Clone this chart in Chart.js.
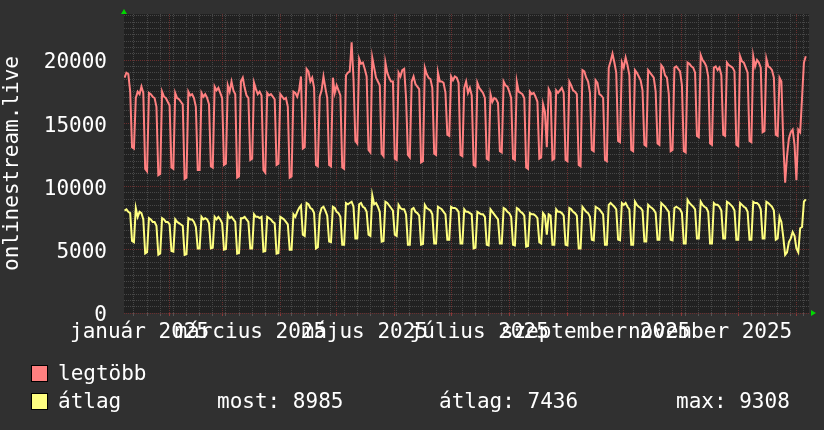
<!DOCTYPE html>
<html><head><meta charset="utf-8">
<script src="https://cdn.jsdelivr.net/npm/chart.js@4/dist/chart.umd.min.js"></script>
<style>
html,body{margin:0;padding:0;background:#303030;}
canvas{display:block;}
</style></head><body>
<canvas id="c" width="824" height="430"></canvas>
<script>
// ---- data ----
const seriesNames = ['legtöbb', 'átlag'];
const firstDate = '2025-01-07';          // first daily value
const viewStartDate = '2025-01-07T17:00:00Z';
const viewDays = 365;
const maxValues = [
18600,19000,18900,17500,13100,13000,
17000,17500,17300,17900,17400,11400,11200,
17400,17300,17100,17000,16300,10900,11000,
17500,17100,17000,16700,16400,11500,11400,
17400,17000,16900,16700,16500,10600,10700,
17500,17200,17300,17000,16300,11300,11300,
17400,17100,17300,17000,16500,11600,11500,
17900,17600,17800,17400,17000,11700,11800,
18000,17500,18300,17600,17300,10700,10800,
18300,18600,17800,17200,17000,12100,12200,
18200,17700,17300,17500,17200,11300,11100,
17400,17200,17300,17100,16900,11700,11800,
17300,17100,16900,17000,16300,10700,10800,
17500,17400,17100,17600,18700,13000,13100,
19300,19100,18300,18600,17800,11700,11600,
17100,17600,18700,17800,17000,11700,11600,
18600,17400,18000,17600,17200,11500,11400,
18800,19000,19100,21400,18500,13600,13400,
20100,19700,19800,19300,18700,12900,12700,
20200,19400,18600,18300,18000,12600,12400,
19800,19000,18600,18300,18300,12200,12100,
19000,18700,19200,19300,17000,12500,12300,
18300,18700,18100,17900,17700,11900,12000,
19400,18900,18600,18500,17800,12600,12500,
19000,18300,18300,18200,17400,14100,14000,
18700,18400,18700,18600,18200,12500,12400,
17800,18300,17400,17800,17200,11700,11600,
18200,17800,17600,17400,17000,12200,12100,
17300,16700,17000,16900,16600,12800,12700,
18300,18000,17900,17500,17000,12200,12100,
18300,17500,17400,17300,17000,11500,11400,
17500,17300,17400,17100,16700,12200,12300,
16500,15900,13100,17700,17400,12100,12200,
17600,17400,17600,17800,17400,12100,12000,
18300,18000,17600,17500,17300,11700,11600,
19200,19100,18600,18300,17400,12900,12800,
18400,18200,17300,17200,17000,12100,12000,
19400,19900,20500,19800,19000,13600,13500,
19800,19400,20200,19600,18800,12900,12800,
19200,19000,18700,18400,17600,13300,13200,
19200,19000,18800,18600,17500,13400,13300,
19600,19400,18800,18600,17300,12800,12900,
19400,19500,19300,19100,18000,12800,12700,
19800,19700,19500,19400,19000,14000,13900,
20400,20000,19800,19500,18700,13400,13300,
19400,19500,19200,19400,18800,14100,14000,
19800,19600,19500,19400,19100,13300,13200,
20300,19900,19800,19400,19000,13600,13500,
20300,19500,20000,19800,19400,14300,14400,
20100,19500,19400,19200,18600,14100,14000,
18600,18300,13500,10300,12400,13800,14300,
14500,13300,10500,14500,14300,17000,19800,
20300
];
const avgValues = [
8100,8200,8000,7900,5700,5600,
8300,7600,8000,7900,7400,4700,4800,
7500,7400,7200,7200,6900,4600,4700,
7500,7400,7200,7200,7000,4900,4850,
7400,7200,7100,7000,6900,4600,4650,
7500,7400,7400,7200,6800,5100,5100,
7600,7400,7500,7400,7100,5100,5150,
7600,7400,7600,7400,7100,5000,5050,
7800,7500,7600,7400,7200,4700,4750,
7500,7500,7600,7400,7200,5100,5100,
7800,7600,7600,7500,7600,4850,4900,
7600,7500,7400,7200,7100,4700,4750,
7600,7500,7400,7200,7000,5000,5000,
7800,7600,8000,8300,8500,6200,6100,
8700,8600,8300,8200,7900,5100,5200,
7800,8300,8400,8100,7700,5650,5600,
8400,8300,8000,7900,7600,5400,5400,
8700,8600,8700,8800,8400,5900,5900,
8600,8700,8400,8300,8000,6200,6100,
9308,8600,8700,8400,8000,5650,5700,
8800,8700,8500,8300,8100,6200,6100,
8550,8300,8200,8200,7800,5400,5400,
8200,8300,8000,7900,7700,5400,5450,
8550,8300,8200,8100,7800,5500,5500,
8400,8300,8200,8000,7800,5800,5800,
8400,8300,8300,8200,8000,5500,5500,
8200,8000,8000,7900,7800,5100,5150,
8000,7900,7800,7800,7600,5400,5350,
8200,8000,7800,7600,7400,5500,5500,
8300,8200,8000,7900,7600,5400,5350,
8300,8200,8000,7900,7700,5250,5300,
7900,7800,7800,7700,7500,5600,5500,
7900,7700,6200,7800,7700,5400,5400,
8200,8000,8000,7900,7700,5400,5350,
8300,8200,8000,7900,7700,5100,5100,
8400,8200,8000,7900,7600,5800,5750,
8400,8300,8200,8000,7800,5400,5400,
8550,8700,8550,8400,8200,5800,5750,
8700,8550,8700,8400,8200,5400,5400,
8800,8550,8400,8300,8100,5650,5650,
8550,8400,8300,8150,7900,5800,5800,
8700,8550,8400,8200,8000,5800,5750,
8300,8400,8300,8200,7900,5500,5500,
8950,8700,8550,8400,8200,5900,5900,
8800,8550,8400,8300,8000,5500,5500,
8700,8550,8550,8400,8100,5900,5900,
8800,8700,8550,8400,8100,5800,5800,
8700,8550,8400,8300,8000,5800,5800,
8800,8700,8700,8550,8200,5900,5900,
8800,8700,8550,8400,8100,5800,5900,
7600,7200,6000,4600,4800,5600,5900,
6400,6100,5100,4800,6700,6800,8800,
8985
];
const monthLabels = ['január 2025', 'március 2025', 'május 2025', 'július 2025', 'szeptember 2025', 'november 2025'];
const monthLabelDates = ['2025-01-16', '2025-03-16', '2025-05-16', '2025-07-16', '2025-09-16', '2025-11-16'];
const yTickValues = [0, 5000, 10000, 15000, 20000];
const yMax = 23640;
const axisTitle = 'onlinestream.live';
const statNames = ['most', 'átlag', 'max'];
const statValues = [8985, 7436, 9308];

// ---- helpers ----
const EPOCH = Date.parse('2025-01-01T00:00:00Z');
const dayOf = s => (Date.parse(s.length === 10 ? s + 'T00:00:00Z' : s) - EPOCH) / 864e5;
const xMin = dayOf(viewStartDate);
const xMax = xMin + viewDays;
const d0 = dayOf(firstDate);
const toPoints = arr => arr.map((v, i) => ({x: d0 + i + 1, y: v}));

const labelDays = monthLabelDates.map(dayOf);
const monthStarts = [];
for (let m = 1; m <= 12; m++) {
  const dt = new Date(Date.UTC(2025, m, 1));
  monthStarts.push((dt.getTime() - EPOCH) / 864e5);
}
const weekStarts = [];
for (let d = dayOf('2025-01-06'); d <= xMax; d += 7) {
  if (d >= xMin && !monthStarts.includes(d)) weekStarts.push(d);
}
const yMinor = [];
for (let v = 500; v < yMax; v += 500) if (v % 5000 !== 0) yMinor.push(v);

const FONT = {family: 'DejaVu Sans Mono', size: 21};
const MINOR = '#474747';
const MAJOR = '#6a2e2e';

const noPad = s => { s.paddingTop = 0; s.paddingBottom = 0; s.paddingLeft = 0; s.paddingRight = 0; };

const bgPlugin = {
  id: 'bg',
  beforeDraw(chart) {
    const {ctx, chartArea: a} = chart;
    ctx.save();
    ctx.fillStyle = '#303030';
    ctx.fillRect(0, 0, chart.width, chart.height);
    ctx.fillStyle = '#212121';
    ctx.fillRect(a.left, a.top, a.right - a.left, a.bottom - a.top);
    ctx.restore();
  },
  afterDraw(chart) {
    const {ctx, chartArea: a} = chart;
    ctx.save();
    // axis arrows
    ctx.fillStyle = '#00d800';
    ctx.beginPath();
    ctx.moveTo(a.left - 3, a.top); ctx.lineTo(a.left + 3, a.top); ctx.lineTo(a.left, a.top - 5); ctx.closePath(); ctx.fill();
    ctx.beginPath();
    ctx.moveTo(a.right + 2, a.bottom - 3); ctx.lineTo(a.right + 2, a.bottom + 3); ctx.lineTo(a.right + 7, a.bottom); ctx.closePath(); ctx.fill();
    // legend
    const colors = chart.data.datasets.map(d => d.borderColor);
    ctx.font = FONT.size + 'px "' + FONT.family + '"';
    ctx.textBaseline = 'alphabetic';
    ctx.textAlign = 'left';
    const rows = [380, 408];
    seriesNames.forEach((n, i) => {
      const by = rows[i] - 15;
      ctx.fillStyle = colors[i];
      ctx.fillRect(31, by, 17, 17);
      ctx.strokeStyle = '#000';
      ctx.lineWidth = 1;
      ctx.strokeRect(31.5, by + 0.5, 16, 16);
      ctx.fillStyle = '#ffffff';
      ctx.fillText(n, 58, rows[i]);
    });
    const sx = [217, 439, 676];
    statNames.forEach((n, i) => {
      ctx.fillText(n + ': ' + statValues[i], sx[i], rows[1]);
    });
    ctx.restore();
  }
};

new Chart(document.getElementById('c'), {
  type: 'line',
  data: {
    datasets: [
      {label: seriesNames[0], data: toPoints(maxValues), borderColor: '#ff8080', borderWidth: 2, pointRadius: 0, tension: 0, fill: false, xAxisID: 'x', yAxisID: 'y'},
      {label: seriesNames[1], data: toPoints(avgValues), borderColor: '#ffff80', borderWidth: 2, pointRadius: 0, tension: 0, fill: false, xAxisID: 'x', yAxisID: 'y'}
    ]
  },
  options: {
    responsive: false,
    animation: false,
    events: [],
    layout: {padding: {top: 14, right: 15, bottom: 0, left: 0}},
    plugins: {legend: {display: false}, tooltip: {enabled: false}},
    scales: {
      xWeek: {
        type: 'linear', position: 'bottom', weight: 0, min: xMin, max: xMax,
        afterBuildTicks: s => { s.ticks = weekStarts.map(v => ({value: v})); },
        afterFit: s => { s.height = 0; noPad(s); },
        ticks: {display: false},
        grid: {color: MINOR, lineWidth: 1, drawTicks: true, tickLength: 3, tickColor: '#555555'},
        border: {display: false, dash: [1, 1]}
      },
      xMonth: {
        type: 'linear', position: 'bottom', weight: 0, min: xMin, max: xMax,
        afterBuildTicks: s => { s.ticks = monthStarts.map(v => ({value: v})); },
        afterFit: s => { s.height = 0; noPad(s); },
        ticks: {display: false},
        grid: {color: MAJOR, lineWidth: 1, drawTicks: true, tickLength: 3, tickColor: '#8a3a3a'},
        border: {display: false, dash: [1, 1]}
      },
      x: {
        type: 'linear', position: 'bottom', weight: 1, min: xMin, max: xMax,
        afterBuildTicks: s => { s.ticks = labelDays.map(v => ({value: v})); },
        afterFit: s => { s.height = 117; noPad(s); },
        grid: {display: false, drawTicks: false},
        border: {display: false},
        ticks: {autoSkip: false, maxRotation: 0, minRotation: 0, padding: 7, color: '#ffffff', font: FONT,
                callback: (v, i) => monthLabels[i]}
      },
      yMinor: {
        position: 'left', weight: 0, min: 0, max: yMax,
        afterBuildTicks: s => { s.ticks = yMinor.map(v => ({value: v})); },
        afterFit: s => { s.width = 0; noPad(s); },
        ticks: {display: false},
        grid: {color: MINOR, lineWidth: 1, drawTicks: false},
        border: {display: false, dash: [1, 1]}
      },
      y: {
        position: 'left', weight: 1, min: 0, max: yMax,
        afterBuildTicks: s => { s.ticks = yTickValues.map(v => ({value: v})); },
        afterFit: s => { s.width = 124; noPad(s); },
        grid: {color: MAJOR, lineWidth: 1, drawTicks: false},
        border: {display: false, dash: [1, 1]},
        ticks: {padding: 17, labelOffset: 3, color: '#ffffff', font: FONT, callback: v => String(v)},
        title: {display: true, text: axisTitle, color: '#ffffff', font: FONT, padding: {top: 0, bottom: 0}}
      }
    }
  },
  plugins: [bgPlugin]
});
</script>
</body></html>
